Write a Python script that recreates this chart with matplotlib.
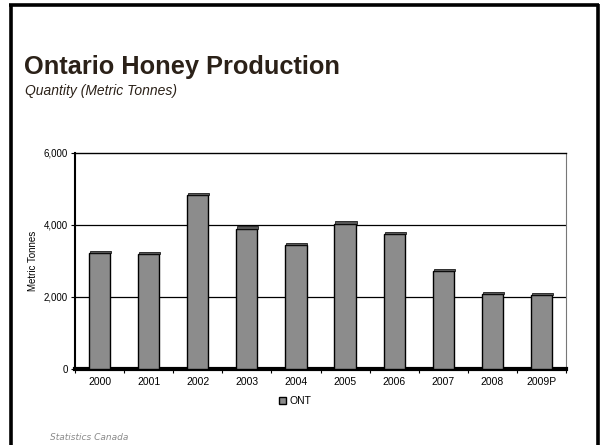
import matplotlib
matplotlib.use("Agg")
import matplotlib.pyplot as plt
from matplotlib.lines import Line2D
import numpy as np

plt.rcParams['font.family'] = ['Liberation Sans', 'DejaVu Sans']

years = ['2000', '2001', '2002', '2003', '2004', '2005', '2006', '2007', '2008', '2009P']
ont = [3230, 3200, 4820, 3900, 3450, 4040, 3750, 2720, 2090, 2060]
yticks = [0, 2000, 4000, 6000]
ytick_labels = ['0', '2,000', '4,000', '6,000']

fig = plt.figure(figsize=(6.05, 4.45), dpi=100)
fig.patch.set_facecolor('white')

# slide frame
kw = dict(color='black', lw=2.6, transform=fig.transFigure, solid_capstyle='butt')
fig.add_artist(Line2D([10.5/605, 10.5/605], [0, 1 - 3.5/445], **kw))
fig.add_artist(Line2D([598/605, 598/605], [0, 1 - 3.5/445], **kw))
fig.add_artist(Line2D([9.2/605, 599.3/605], [1 - 5/445, 1 - 5/445], **kw))

fig.text(24/605, 1 - 74/445, 'Ontario Honey Production', fontsize=18.3, fontweight='bold',
         color='#2b2118', ha='left', va='baseline')
fig.text(25/605, 1 - 95/445, 'Quantity (Metric Tonnes)', fontsize=10, style='italic',
         color='#2b2118', ha='left', va='baseline')
fig.text(50/605, 1 - 440/445, 'Statistics Canada', fontsize=6.5, style='italic',
         color='#8a8a8a', ha='left', va='baseline', family=['DejaVu Sans'])

ax = fig.add_axes([75/605, 1 - 369/445, (566 - 75)/605, (369 - 153)/445])
x = np.arange(len(years))
ax.bar(x, ont, width=0.43, color='#8c8c8c', edgecolor='black', linewidth=1.0, zorder=3, label='ONT')
# thin dark caps (3D top face)
ax.bar(x + 0.02, [60] * len(ont), bottom=ont, width=0.43, color='#555555', edgecolor='black',
       linewidth=0.5, zorder=3)

ax.set_xlim(-0.5, len(years) - 0.5)
ax.set_ylim(0, 6000)
ax.set_yticks(yticks)
ax.set_yticklabels(ytick_labels, fontsize=7)
ax.set_xticks(x)
ax.set_xticklabels(years, fontsize=7.5)
ax.tick_params(axis='x', length=0, pad=6)
ax.tick_params(axis='y', length=3, width=0.8, direction='out', pad=2)
ax.set_xticks(np.arange(-0.5, len(years) + 0.5, 1), minor=True)
ax.tick_params(axis='x', which='minor', length=3, width=0.8, direction='out')

for yv in [2000, 4000]:
    ax.axhline(yv, color='black', lw=0.9, zorder=1)
ax.spines['top'].set_linewidth(1.0)
ax.spines['right'].set_color('#777777')
ax.spines['right'].set_linewidth(0.8)
ax.spines['left'].set_linewidth(1.5)
ax.spines['bottom'].set_linewidth(3)
ax.set_ylabel('Metric Tonnes', fontsize=7, labelpad=4)

leg = ax.legend(loc='center', bbox_to_anchor=((295 - 75) / (566 - 75), -(401 - 369) / (369 - 153)),
                frameon=False, fontsize=7.5, handlelength=0.75, handleheight=0.75, handletextpad=0.3)

fig.savefig('out.png', dpi=100)
